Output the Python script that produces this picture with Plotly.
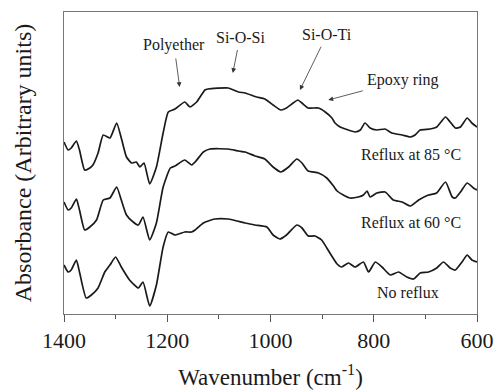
import plotly.graph_objects as go

# Wavenumber (cm-1) and absorbance (arbitrary units, stacked spectra)
wn_85 = [1400, 1392, 1386, 1376, 1370, 1360, 1350, 1344, 1334, 1324, 1311, 1298, 1289, 1279,
         1269, 1260, 1253, 1245, 1234, 1221, 1208, 1198, 1185, 1166, 1156, 1143, 1127, 1121,
         1082, 1062, 1049, 1027, 1011, 995, 980, 969, 956, 947, 939, 927, 907, 894, 881,
         875, 865, 855, 836, 826, 817, 807, 794, 778, 765, 745, 729, 720, 710, 691, 678,
         661, 652, 642, 632, 619, 610, 600]
ab_85 = [172, 164, 166, 173, 164, 144, 146, 149, 161, 179, 176, 191, 176, 157,
         151, 152, 147, 151, 130, 147, 181, 202, 205, 212, 207, 212, 224, 225,
         226, 222, 221, 217, 215, 209, 204, 206, 211, 214, 211, 206, 206, 202, 196,
         191, 187, 185, 182, 184, 191, 186, 184, 185, 181, 179, 177, 179, 184, 185, 187,
         197, 192, 186, 187, 196, 191, 187]

wn_60 = [1400, 1392, 1386, 1376, 1370, 1360, 1350, 1337, 1324, 1311, 1298, 1289, 1279, 1266,
         1256, 1247, 1234, 1221, 1208, 1194, 1185, 1166, 1153, 1146, 1130, 1117, 1082, 1062,
         1049, 1030, 1011, 995, 980, 965, 949, 939, 927, 907, 891, 878, 871, 859, 846,
         830, 820, 813, 807, 794, 778, 762, 745, 729, 713, 694, 678, 661, 648, 642, 632,
         619, 607, 600]
ab_60 = [112, 104, 106, 115, 104, 84, 87, 94, 114, 116, 127, 114, 99, 92,
         89, 97, 74, 91, 127, 146, 148, 154, 149, 152, 162, 165, 165, 163,
         162, 158, 155, 147, 142, 147, 155, 151, 143, 141, 136, 128, 123, 119, 116,
         117, 119, 123, 117, 121, 122, 114, 112, 108, 114, 119, 121, 132, 117, 116, 122,
         131, 126, 124]

wn_0 = [1400, 1392, 1386, 1376, 1370, 1357, 1347, 1334, 1321, 1311, 1300, 1289, 1273, 1256,
        1247, 1234, 1221, 1208, 1198, 1185, 1166, 1153, 1146, 1130, 1108, 1082, 1049, 1030,
        1007, 995, 982, 969, 949, 939, 927, 914, 901, 885, 871, 862, 849, 836, 820, 810,
        797, 784, 768, 752, 736, 723, 710, 694, 678, 665, 652, 642, 629, 619, 610, 600]
ab_0 = [49, 42, 44, 54, 42, 16, 19, 26, 42, 49, 57, 47, 34, 26,
        32, 8, 29, 67, 82, 79, 82, 82, 84, 91, 95, 95, 91, 89,
        87, 79, 75, 79, 89, 86, 78, 78, 74, 61, 50, 47, 51, 47, 52, 42,
        52, 47, 39, 42, 37, 35, 41, 42, 46, 52, 46, 44, 52, 59, 54, 52]

series_names = ["Reflux at 85 °C", "Reflux at 60 °C", "No reflux"]
label_pos = [(727, 160), (727, 92), (733, 22)]

band_names = ["Polyether", "Si-O-Si", "Si-O-Ti", "Epoxy ring"]
band_text_pos = [(1187, 269), (1059, 277), (890, 280), (743, 234)]
band_head = [(1176, 227), (1073, 241), (943, 224), (888, 214)]

x_ticks = [1400, 1200, 1000, 800, 600]

FONT = "Liberation Serif"
fig = go.Figure()
for wn, ab, name in zip([wn_85, wn_60, wn_0], [ab_85, ab_60, ab_0], series_names):
    fig.add_trace(go.Scatter(x=wn, y=ab, mode="lines", name=name,
                             line=dict(color="#1a1a1a", width=1.7, shape="spline", smoothing=0.5),
                             showlegend=False))

annotations = []
for name, (x, y) in zip(series_names, label_pos):
    annotations.append(dict(x=x, y=y, xref="x", yref="y", text=name, showarrow=False,
                            xanchor="center", yanchor="middle",
                            font=dict(family=FONT, size=16, color="#1a1a1a")))
for i, name in enumerate(band_names):
    tx, ty = band_text_pos[i]
    hx, hy = band_head[i]
    annotations.append(dict(x=hx, y=hy, xref="x", yref="y", ax=tx, ay=ty,
                            axref="x", ayref="y", text=name, showarrow=True,
                            arrowhead=2, arrowsize=1.2, arrowwidth=0.8,
                            arrowcolor="#333333", standoff=0, startstandoff=3,
                            font=dict(family=FONT, size=16, color="#1a1a1a")))

fig.update_layout(
    width=495, height=390,
    margin=dict(l=64, r=18, t=12, b=76, autoexpand=False),
    paper_bgcolor="white", plot_bgcolor="white",
    font=dict(family=FONT, color="#1a1a1a"),
    annotations=annotations,
    xaxis=dict(range=[1400, 600], tickvals=x_ticks, ticktext=[str(t) for t in x_ticks],
               automargin=False,
               showgrid=False, zeroline=False, showline=True, mirror=True,
               linecolor="#777777", linewidth=1,
               ticks="outside", ticklen=7, tickcolor="#555555", tickwidth=1,
               minor=dict(ticks="outside", ticklen=4, dtick=100, tickcolor="#555555", showgrid=False),
               tickfont=dict(family=FONT, size=22, color="#1a1a1a"),
               title=dict(text="Wavenumber (cm<sup>-1</sup>)",
                          font=dict(family=FONT, size=23, color="#1a1a1a"), standoff=18)),
    yaxis=dict(range=[0, 302], showticklabels=False, ticks="", showgrid=False, zeroline=False,
               automargin=False,
               showline=True, mirror=True, linecolor="#777777", linewidth=1,
               title=dict(text="Absorbance (Arbitrary units)",
                          font=dict(family=FONT, size=24, color="#1a1a1a"), standoff=24)),
)

fig.write_html("out.html")
